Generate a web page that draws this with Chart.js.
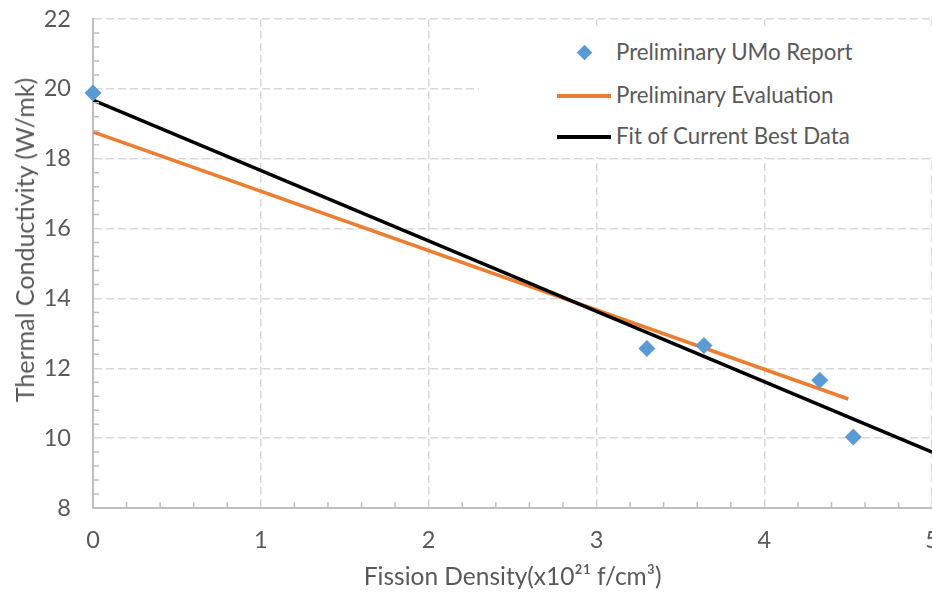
<html>
<head>
<script src="https://cdn.jsdelivr.net/npm/chart.js@4.4.1/dist/chart.umd.min.js"></script>
<style>
  body { margin: 0; padding: 0; background: #fff; }
  #wrap { position: relative; width: 932px; height: 592px; overflow: hidden; }
  #wrap canvas { position: absolute; left: 0; top: 0; }
  .txt { font-family: Lato, sans-serif; font-size: 22.3px; color: #595959; white-space: nowrap; }
  #legend { position: absolute; left: 479px; top: 26px; width: 460px; height: 131px; background: #fff; }
  .row { position: absolute; left: 0; height: 30px; line-height: 30px; }
  .row .txt { position: absolute; left: 137px; top: 0; line-height: 30px; }
  .diamond { position: absolute; left: 100px; top: 10px; width: 11px; height: 11px; background: #5b9bd5; transform: rotate(45deg); }
  .seg { position: absolute; left: 78px; top: 14px; width: 54px; height: 4px; }
  #ytitle { position: absolute; left: 24px; top: 240px; font-size: 25px; transform: translate(-50%, -50%) rotate(-90deg); }
</style>
</head>
<body>
<div id="wrap">
  <!-- canvas a bit wider than the page so the "5" label gets cut at the edge like the original -->
  <canvas id="myChart" width="957" height="592"></canvas>
  <div id="legend">
    <div class="row" style="top:11px"><div class="diamond"></div><div class="txt">Preliminary UMo Report</div></div>
    <div class="row" style="top:54px"><div class="seg" style="background:#ed7d31"></div><div class="txt">Preliminary Evaluation</div></div>
    <div class="row" style="top:95px"><div class="seg" style="background:#000"></div><div class="txt">Fit of Current Best Data</div></div>
  </div>
  <div id="ytitle" class="txt">Thermal Conductivity (W/mk)</div>
</div>
<script>
// measured points
const reportX = [0, 3.30, 3.64, 4.33, 4.53];
const reportY = [19.88, 12.57, 12.65, 11.66, 10.03];
// line end points
const evalX = [0, 4.5];
const evalY = [18.77, 11.12];
const fitX = [0, 5];
const fitY = [19.68, 9.6];

const xMin = 0, xMax = 5, xStep = 1, xMinor = 0.2;
const yMin = 8, yMax = 22, yStep = 2, yMinor = 0.4;

const grey = '#595959';
const gridGrey = '#d9d9d9';
const axisGrey = '#bfbfbf';

function pts(xs, ys) {
    return xs.map((x, i) => ({x: x, y: ys[i]}));
}

// excel style inward minor ticks
const minorTicks = {
    id: 'minorTicks',
    afterDraw(chart) {
        const c = chart.ctx;
        const xs = chart.scales.x, ys = chart.scales.y;
        const a = chart.chartArea;
        c.save();
        c.strokeStyle = axisGrey;
        c.lineWidth = 1.5;
        c.beginPath();
        const nx = Math.round((xMax - xMin) / xMinor);
        for (let i = 1; i < nx; i++) {
            if (i % Math.round(xStep / xMinor) === 0) continue;
            const px = xs.getPixelForValue(xMin + i * xMinor);
            c.moveTo(px, a.bottom);
            c.lineTo(px, a.bottom - 6);
        }
        const ny = Math.round((yMax - yMin) / yMinor);
        for (let i = 1; i < ny; i++) {
            if (i % Math.round(yStep / yMinor) === 0) continue;
            const py = ys.getPixelForValue(yMin + i * yMinor);
            c.moveTo(a.left, py);
            c.lineTo(a.left + 6, py);
        }
        c.stroke();
        c.restore();
    }
};

const ctx = document.getElementById('myChart').getContext('2d');
const myChart = new Chart(ctx, {
    type: 'scatter',
    data: {
        datasets: [{
            label: 'Preliminary UMo Report',
            data: pts(reportX, reportY),
            pointStyle: 'rectRot',
            pointRadius: 8.5,
            backgroundColor: '#5b9bd5',
            borderColor: '#5b9bd5',
            borderWidth: 0,
            clip: false,
            order: 0
        }, {
            label: 'Preliminary Evaluation',
            data: pts(evalX, evalY),
            showLine: true,
            pointRadius: 0,
            borderColor: '#ed7d31',
            borderWidth: 3.5,
            order: 2
        }, {
            label: 'Fit of Current Best Data',
            data: pts(fitX, fitY),
            showLine: true,
            pointRadius: 0,
            borderColor: '#000000',
            borderWidth: 3.5,
            order: 1
        }]
    },
    options: {
        responsive: false,
        animation: false,
        layout: { padding: { top: 19, right: 0, bottom: 0, left: 0 } },
        plugins: {
            legend: { display: false },
            tooltip: { enabled: false }
        },
        scales: {
            x: {
                type: 'linear',
                min: xMin, max: xMax,
                ticks: { stepSize: xStep, color: grey, font: { family: 'Lato', size: 23.5 }, padding: 18, maxRotation: 0 },
                grid: { color: gridGrey, lineWidth: 1.5, drawTicks: false },
                border: { color: axisGrey, width: 2, dash: [8, 4] },
                title: {
                    display: true,
                    text: 'Fission Density(x10²¹ f/cm³)',
                    color: grey,
                    font: { family: 'Lato', size: 24.5 },
                    padding: { top: 8, bottom: 0 }
                },
                afterFit(s) { s.height = 84; }
            },
            y: {
                min: yMin, max: yMax,
                ticks: { stepSize: yStep, color: grey, font: { family: 'Lato', size: 23.5 }, padding: 22 },
                grid: { color: gridGrey, lineWidth: 1.5, drawTicks: false },
                border: { color: axisGrey, width: 2, dash: [8, 4] },
                afterFit(s) { s.width = 93; s.paddingTop = 0; s.paddingBottom = 0; }
            }
        }
    },
    plugins: [minorTicks]
});
</script>
</body>
</html>
